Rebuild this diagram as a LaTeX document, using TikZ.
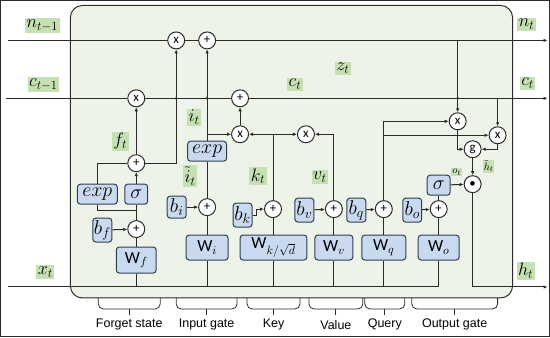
\RequirePackage{fix-cm}
\documentclass[tikz,border=0pt]{standalone}
\usepackage{fontspec}
\setsansfont{Liberation Sans}
\newfontfamily\calib{Carlito}
\usetikzlibrary{arrows.meta,calc}
\definecolor{bgfill}{HTML}{EEF3EA}
\definecolor{labg}{HTML}{C5E0B3}
\definecolor{boxb}{HTML}{C9DAF0}
\definecolor{edge}{HTML}{2B2B2B}
\definecolor{boxedge}{HTML}{2F3D4F}
\begin{document}
\begin{tikzpicture}[x=1pt,y=-1pt,line width=1pt,
 every path/.style={draw=edge},
 arr/.style={-{Latex[length=4pt,width=3.5pt]}},
 op/.style={circle,draw=edge,fill=white,minimum size=17pt,inner sep=0pt,font=\calib\fontsize{13}{13}\selectfont},
 bx/.style={rectangle,rounded corners=3pt,draw=boxedge,fill=boxb,inner sep=0pt,font=\calib\fontsize{20}{20}\selectfont},
 wbx/.style={bx,font=\calib\fontsize{17}{17}\selectfont},
 lab/.style={fill=labg,inner sep=1.5pt,font=\fontsize{18}{18}\selectfont},
 slab/.style={fill=labg,inner sep=1pt,font=\fontsize{10.5}{10.5}\selectfont},
 gname/.style={font=\sffamily\fontsize{12.5}{12.5}\selectfont},
 brk/.style={line width=0.8pt,rounded corners=5pt},
 jdot/.style={circle,fill=edge,inner sep=0pt,minimum size=3pt}
]
\useasboundingbox (0,0) rectangle (550,337);
\node[draw=edge,fill=bgfill,rounded corners=12pt,minimum width=443pt,minimum height=293pt,line width=1pt] (frame) at (291.5,151.5) {};

% operators
\node[op] (mn) at (176,40) {x};
\node[op] (pn) at (207,40) {+};
\node[op] (mc) at (136,98) {x};
\node[op] (pc) at (240,98) {+};
\node[op] (mi) at (240,134) {x};
\node[op] (mv) at (306,134) {x};
\node[op] (pf) at (136,163) {+};
\node[op] (pbf) at (136,229) {+};
\node[op] (pi) at (207,207) {+};
\node[op] (pk) at (273,209) {+};
\node[op] (pv) at (334,209) {+};
\node[op] (pq) at (384,209) {+};
\node[op] (po) at (439,209) {+};
\node[op] (mqa) at (458,121) {x};
\node[op] (mqb) at (498,135) {x};
\node[op] (g) at (473,149) {g};
\node[op] (hd) at (473,184) {\textbullet};

% boxes
\node[bx,minimum width=40pt,minimum height=20pt] (expf) at (97,194) {$exp$};
\node[bx,minimum width=23pt,minimum height=20pt] (sigf) at (136,194) {$\sigma$};
\node[bx,minimum width=19pt,minimum height=24pt] (bf) at (102,230) {$b_f$};
\node[wbx,minimum width=40pt,minimum height=26pt] (Wf) at (136,260) {W$_f$};
\node[bx,minimum width=39pt,minimum height=20pt] (expi) at (207,151) {$exp$};
\node[bx,minimum width=19pt,minimum height=22pt] (bi) at (176.5,207) {$b_i$};
\node[wbx,minimum width=42pt,minimum height=25pt] (Wi) at (207,247.5) {W$_i$};
\node[bx,minimum width=19pt,minimum height=24pt] (bk) at (242.5,215) {$b_k$};
\node[wbx,minimum width=67pt,minimum height=25pt] (Wk) at (273.5,247.5) {W$_{k/\sqrt{d}}$};
\node[bx,minimum width=19pt,minimum height=24pt] (bv) at (304.5,210) {$b_v$};
\node[wbx,minimum width=38pt,minimum height=25pt] (Wv) at (334,247.5) {W$_v$};
\node[bx,minimum width=19pt,minimum height=24pt] (bq) at (356.5,210) {$b_q$};
\node[wbx,minimum width=44pt,minimum height=25pt] (Wq) at (384,247.5) {W$_q$};
\node[bx,minimum width=19pt,minimum height=24pt] (bo) at (412.5,210) {$b_o$};
\node[wbx,minimum width=41pt,minimum height=25pt] (Wo) at (439,247.5) {W$_o$};
\node[bx,minimum width=23pt,minimum height=20pt] (sigo) at (439,185) {$\sigma$};

% coordinates
\coordinate (nin) at (8,40);
\coordinate (nout) at (548,40);
\coordinate (cin) at (6,98);
\coordinate (cout) at (548,98);
\coordinate (xin) at (8,287);
\coordinate (xend) at (439,287);
\coordinate (hc) at (473,287);
\coordinate (hout) at (548,287);
\coordinate (jf) at (136,210);

% state lines
\draw (nin) -- (mn);
\draw (mn) -- (pn);
\draw[arr] (pn) -- (nout);
\draw (cin) -- (mc);
\draw (mc) -- (pc);
\draw[arr] (pc) -- (cout);
\draw (xin) -- (xend);
\foreach \w in {Wf,Wi,Wk,Wv,Wq,Wo} \draw (\w.south) -- (\w.south |- xin);

% W to plus
\draw (Wf) -- (pbf);
\draw (Wi) -- (pi);
\draw (Wk.north -| pk) -- (pk);
\draw (Wv) -- (pv);
\draw (Wq) -- (pq);
\draw (Wo) -- (po);
% biases
\draw[arr] (bf) -- (pbf);
\draw[arr] (bi) -- (pi);
\draw[arr] (bk.east) -- ++(4,0) |- (pk.west);
\draw[arr] (bv) -- (pv);
\draw[arr] (bq) -- (pq);
\draw[arr] (bo) -- (po);

% forget
\draw (pbf) -- (sigf);
\draw[arr] (sigf) -- (pf);
\draw (expf.south) |- (jf);
\draw (expf.north) |- (pf.west);
\draw[arr] (pf) -- (mc);
\draw[arr] (pf.east) -| (mn.south);

% input
\draw (pi) -- (expi);
\draw[arr] (expi) -- (pn);
\draw[arr] (expi.north |- mi) -- (mi);
\draw[arr] (mi) -- (pc);

% key / value
\coordinate (kt) at (pk |- mi);
\draw (pk) -- (kt);
\draw[arr] (kt) -- (mi);
\draw[arr] (kt) -- (mv);
\coordinate (vt) at (pv |- mv);
\draw (pv) -- (vt);
\draw[arr] (vt) -- (mv);

% query / output
\coordinate (qt) at (pq |- mqa);
\draw (pq) -- (qt);
\draw[arr] (qt) -- (mqa);
\draw[arr] (pq |- mqb) -- (mqb);
\draw[arr] (mqa |- nin) -- (mqa);
\draw[arr] (mqb |- cin) -- (mqb);
\draw[arr] (mqa) |- (g);
\draw[arr] (mqb) |- (g);
\draw[arr] (g) -- (hd);
\draw (po) -- (sigo);
\draw[arr] (sigo) -- (hd);
\draw (hd) -- (hc);
\draw[arr] (hc) -- (hout);

% junction dots
\node[jdot] (d1) at (mn |- cin) {};
\node[jdot] (d2) at (pn |- cin) {};
\node[jdot] (d3) at (mqa |- cin) {};

% labels
\node[lab] (ln1) at (42,25) {$n_{t-1}$};
\node[lab] (lc1) at (43,84) {$c_{t-1}$};
\node[lab] (lft) at (120,141) {$f_t$};
\node[lab] (lit) at (194,117) {$i_t$};
\node[lab] (lti) at (190,176) {$\tilde{i}_t$};
\node[lab] (lkt) at (258,176) {$k_t$};
\node[lab] (lvt) at (320,177) {$v_t$};
\node[lab] (lzt) at (343,68) {$z_t$};
\node[lab] (lct) at (295,84) {$c_t$};
\node[lab] (lnt) at (527,24) {$n_t$};
\node[lab] (lct2) at (528,83) {$c_t$};
\node[lab] (lxt) at (45,272) {$x_t$};
\node[lab] (lht) at (526,271) {$h_t$};
\node[slab] (lot) at (457,172) {$o_t$};
\node[slab] (lhtt) at (489,166) {$\tilde{h}_t$};

% group brackets
\foreach \a/\b/\nm/\txt in {98/160/g1/Forget state,176/237/g2/Input gate,247/300/g3/Key,309/363/g4/Value,365/405/g5/Query,412/498/g6/Output gate}{
  \draw[brk] (\a,298) -- (\a,309) -- (\b,309) -- (\b,298);
  \draw[line width=0.8pt] ({(\a+\b)/2},309) -- ({(\a+\b)/2},315);
  \node[gname] (\nm) at ({(\a+\b)/2},325) {\txt};
}
\end{tikzpicture}
\end{document}
